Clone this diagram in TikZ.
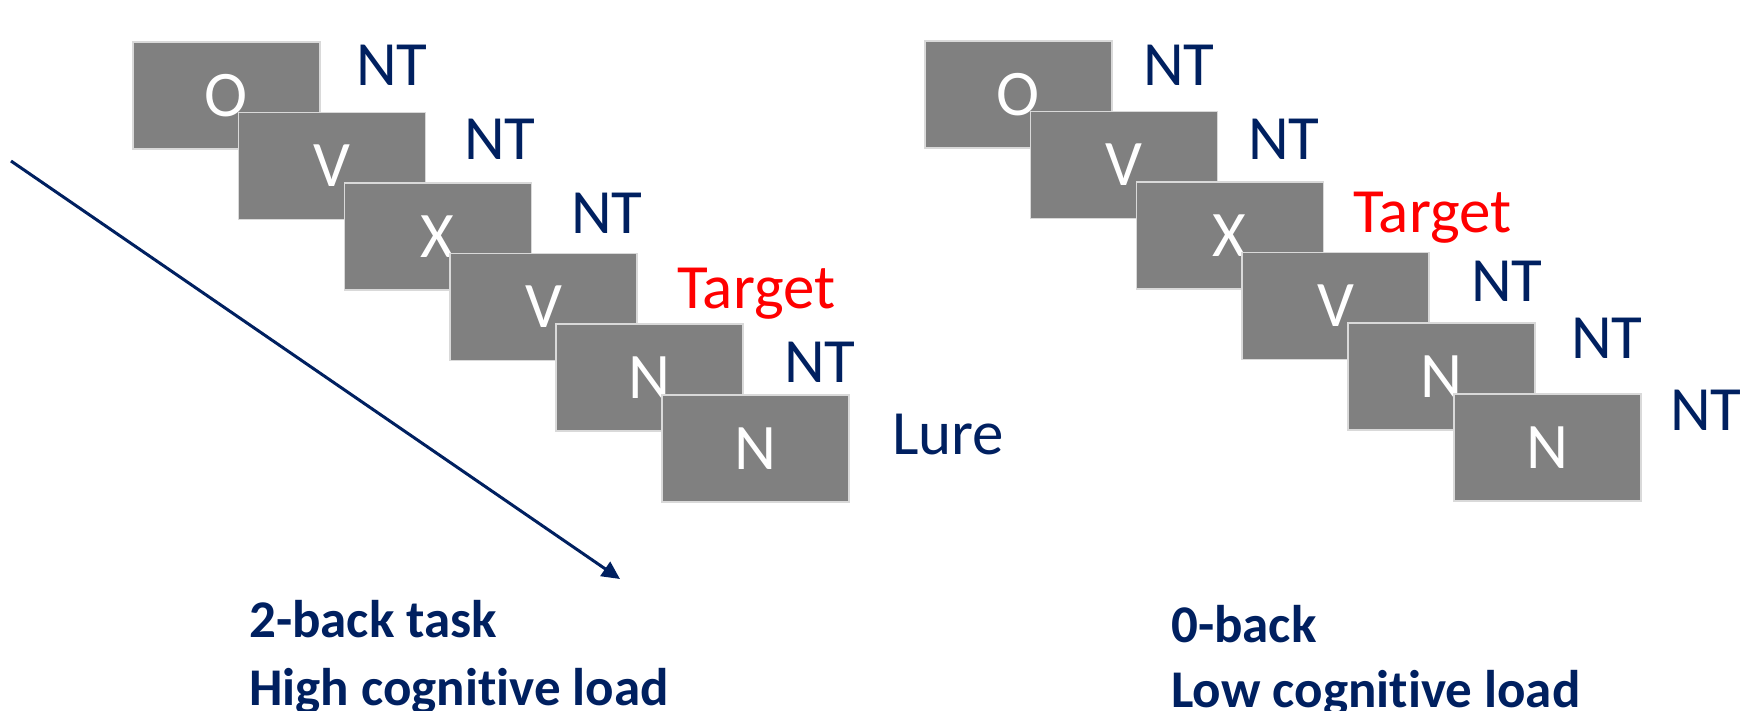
\documentclass[tikz,border=0pt]{standalone}
\usepackage{fontspec}
\setmainfont{Carlito}[Ligatures=NoCommon]
\usetikzlibrary{arrows.meta}
\definecolor{navy}{HTML}{002060}
\definecolor{cardgray}{HTML}{808080}
\definecolor{cardedge}{HTML}{D9D9D9}
\tikzset{
  card/.style={rectangle, fill=cardgray, draw=cardedge, line width=1.5pt,
    minimum width=187pt, minimum height=107pt, inner sep=0pt, anchor=north west,
    text=white, font=\fontsize{65}{78}\selectfont},
  resp/.style={anchor=base west, inner sep=0pt, text=navy,
    font=\fontsize{63}{76}\selectfont},
  hit/.style={resp, text=red},
  caption/.style={anchor=base west, inner sep=0pt, text=navy,
    font=\fontsize{53}{64}\selectfont\bfseries},
  timeline/.style={draw=navy, line width=3pt,
    -{Triangle[length=18pt,width=17pt]}}
}
\begin{document}
\begin{tikzpicture}[x=1pt,y=-1pt]
\useasboundingbox (0,0) rectangle (1745,710);

% 2-back sequence
\node[card] (a1) at (132,41)    {O};
\node[card] (a2) at (237.8,111.6) {V};
\node[card] (a3) at (343.6,182.2) {X};
\node[card] (a4) at (449.4,252.8) {V};
\node[card] (a5) at (555.2,323.4) {N};
\node[card] (a6) at (661,394)   {N};

\node[resp] (ra1) at (356,85)  {NT};
\node[resp] (ra2) at (464,159) {NT};
\node[resp] (ra3) at (571,233) {NT};
\node[hit]  (ra4) at (677,308) {Target};
\node[resp] (ra5) at (784,382) {NT};
\node[resp] (ra6) at (892,454) {Lure};

% 0-back sequence
\node[card] (b1) at (924,40)      {O};
\node[card] (b2) at (1029.8,110.6) {V};
\node[card] (b3) at (1135.6,181.2) {X};
\node[card] (b4) at (1241.4,251.8) {V};
\node[card] (b5) at (1347.2,322.4) {N};
\node[card] (b6) at (1453,393)    {N};

\node[resp] (rb1) at (1143,85)  {NT};
\node[resp] (rb2) at (1248,159) {NT};
\node[hit]  (rb3) at (1353,232) {Target};
\node[resp] (rb4) at (1471,301) {NT};
\node[resp] (rb5) at (1571,358) {NT};
\node[resp] (rb6) at (1670,430) {NT};

% time axis
\coordinate (t0) at (11,161);
\coordinate (t1) at (620,579);
\draw[timeline] (t0) -- (t1);

% task captions
\node[caption] (c1) at (249,637) {2-back task};
\node[caption] (c2) at (249,705) {High cognitive load};
\node[caption] (c3) at (1171,642) {0-back};
\node[caption] (c4) at (1171,707) {Low cognitive load};
\end{tikzpicture}
\end{document}
